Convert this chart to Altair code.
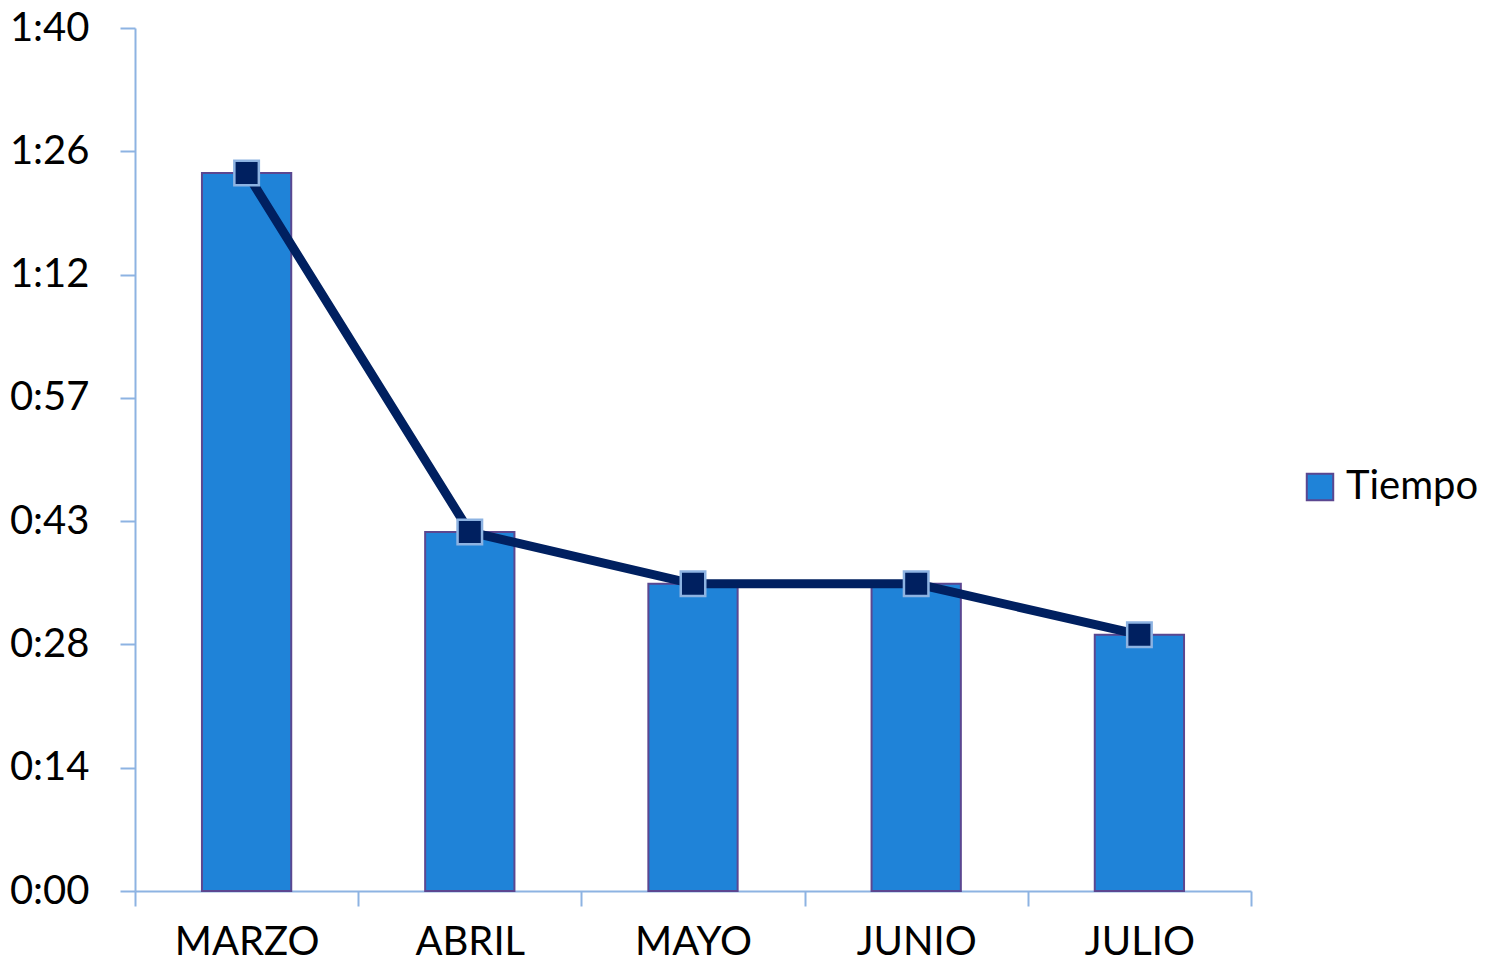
import altair as alt
import pandas as pd

meses = ["MARZO", "ABRIL", "MAYO", "JUNIO", "JULIO"]
minutos = [83.2, 41.6, 35.6, 35.6, 29.7]
serie = "Tiempo"
y_labels = ["0:00", "0:14", "0:28", "0:43", "0:57", "1:12", "1:26", "1:40"]
y_max = 100

df = pd.DataFrame({"mes": meses, "min": minutos, "serie": [serie] * len(meses)})

n = len(y_labels) - 1
y_ticks = [i * y_max / n for i in range(n + 1)]
label_expr = "[" + ",".join("'%s'" % s for s in y_labels) + "][round(datum.value*%d/%d)]" % (n, y_max)

FONT = "Lato"
AXIS_COLOR = "#8db3e2"
BAR = "#1f83d8"
BAR_STROKE = "#5b4790"
LINE = "#002060"

x = alt.X(
    "mes:N",
    sort=meses,
    title=None,
    scale=alt.Scale(paddingInner=0, paddingOuter=0),
    axis=alt.Axis(
        tickBand="extent",
        labelAngle=0,
        labelFontSize=40,
        labelFont=FONT,
        labelColor="black",
        labelBaseline="alphabetic",
        labelPadding=48,
        tickSize=15,
        tickColor=AXIS_COLOR,
        domainColor=AXIS_COLOR,
        tickWidth=2,
        domainWidth=2,
    ),
)
y = alt.Y(
    "min:Q",
    title=None,
    scale=alt.Scale(domain=[0, y_max], nice=False),
    axis=alt.Axis(
        values=y_ticks,
        labelExpr=label_expr,
        labelFontSize=40,
        labelFont=FONT,
        labelColor="black",
        labelPadding=31,
        tickSize=15,
        tickColor=AXIS_COLOR,
        domainColor=AXIS_COLOR,
        tickWidth=2,
        domainWidth=2,
        grid=False,
    ),
)

bars = alt.Chart(df).mark_bar(
    stroke=BAR_STROKE, strokeWidth=2, width=alt.RelativeBandSize(0.4)
).encode(
    x=x,
    y=y,
    color=alt.Color(
        "serie:N",
        scale=alt.Scale(range=[BAR]),
        legend=alt.Legend(
            title=None,
            orient="none",
            legendX=1165,
            legendY=439,
            symbolType="square",
            symbolSize=700,
            symbolStrokeColor=BAR_STROKE,
            symbolStrokeWidth=2,
            symbolFillColor=BAR,
            labelFontSize=40,
            labelFont=FONT,
            labelColor="black",
            labelOffset=6,
            padding=0,
        ),
    ),
)

line = alt.Chart(df).mark_line(color=LINE, strokeWidth=9).encode(x=x, y=y)
points = alt.Chart(df).mark_point(
    shape="square", filled=True, fill=LINE, stroke=AXIS_COLOR, strokeWidth=2.5, size=600, opacity=1
).encode(x=x, y=y)

chart = (
    alt.layer(bars, line, points)
    .properties(
        width=1116,
        height=863,
        autosize=alt.AutoSizeParams(type="none"),
        padding={"left": 127, "top": 20, "right": 227, "bottom": 72},
    )
    .configure_view(stroke=None)
)

chart.save("out.html", embed_options={"renderer": "svg", "actions": False})
